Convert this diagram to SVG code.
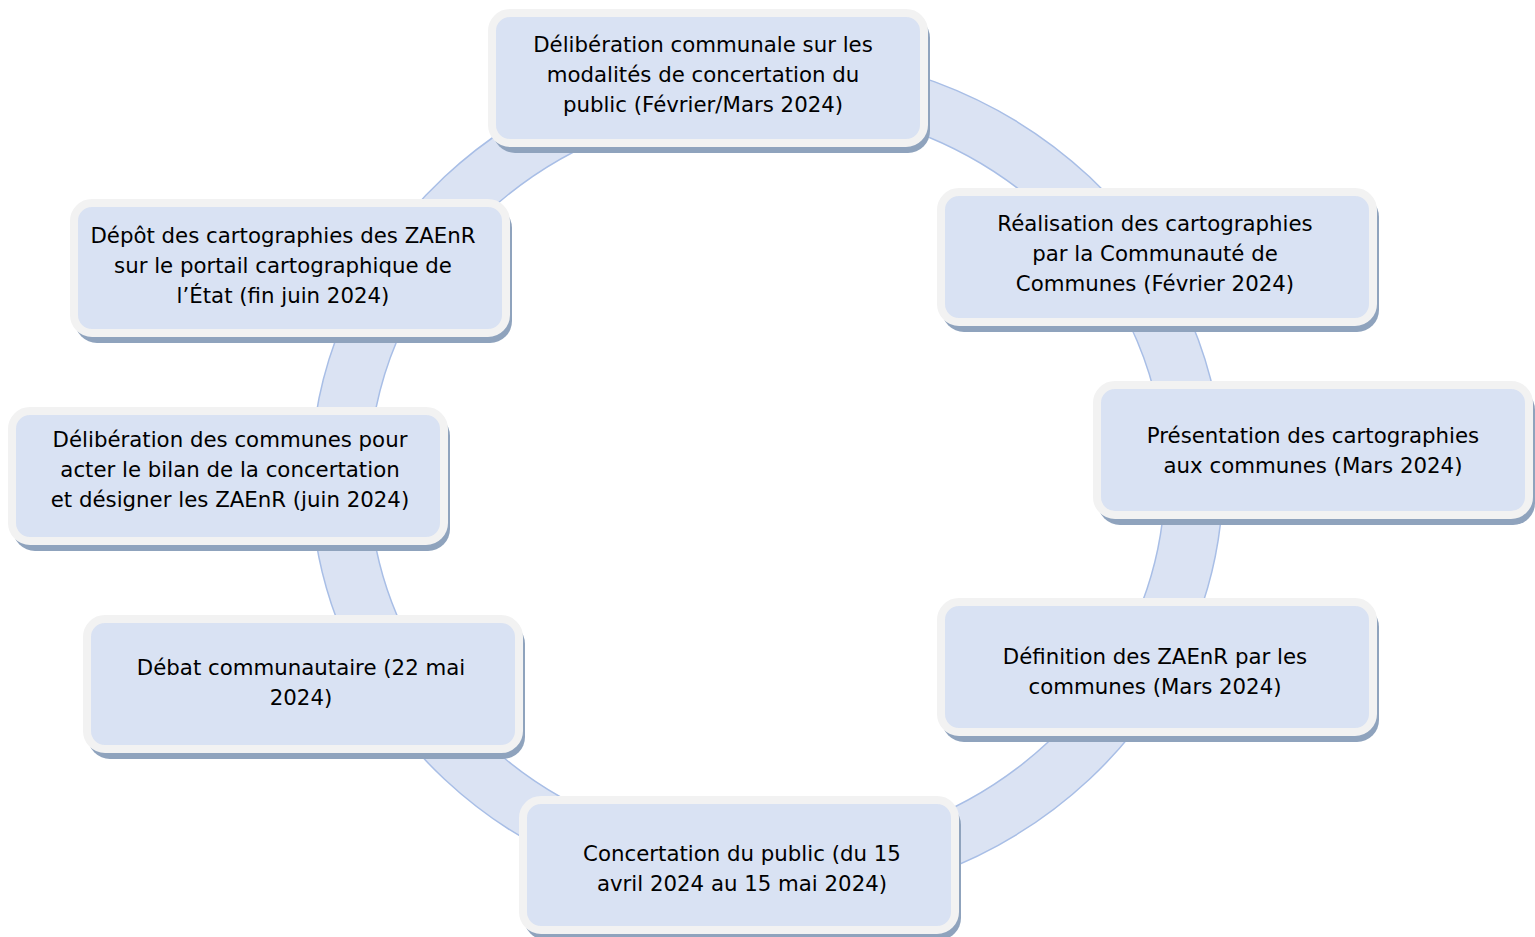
<svg xmlns="http://www.w3.org/2000/svg" width="1535" height="937" viewBox="0 0 1535 937">
<style>
.shadow{fill:#8FA3BD;}
.box{fill:#D9E2F3;stroke:#F2F2F2;stroke-width:8;}
.t{font-family:"DejaVu Sans","Open Sans",sans-serif;font-size:21.3px;fill:#000;text-anchor:middle;}
.ring{fill:#D7E0F2;fill-opacity:0.9;stroke:#A8BEE6;stroke-width:1.5;fill-rule:evenodd;}
</style>
<rect width="1535" height="937" fill="#fff"/>
<g id="connectors">
<path class="ring" d="M311,478 A456,426 0 1,0 1223,478 A456,426 0 1,0 311,478 Z M369,478 A398,373 0 1,0 1165,478 A398,373 0 1,0 369,478 Z"/>
</g>
<g id="n1">
<rect class="shadow" x="493" y="16" width="437" height="137" rx="22"/>
<rect class="box" x="492" y="13" width="432" height="130" rx="18"/>
<text class="t" x="703" y="52">Délibération communale sur les</text>
<text class="t" x="703" y="82">modalités de concertation du</text>
<text class="t" x="703" y="112">public (Février/Mars 2024)</text>
</g>
<g id="n2">
<rect class="shadow" x="942" y="195" width="437" height="137" rx="22"/>
<rect class="box" x="941" y="192" width="432" height="130" rx="18"/>
<text class="t" x="1155" y="231">Réalisation des cartographies</text>
<text class="t" x="1155" y="261">par la Communauté de</text>
<text class="t" x="1155" y="291">Communes (Février 2024)</text>
</g>
<g id="n3">
<rect class="shadow" x="1098" y="388" width="437" height="137" rx="22"/>
<rect class="box" x="1097" y="385" width="432" height="130" rx="18"/>
<text class="t" x="1313" y="443">Présentation des cartographies</text>
<text class="t" x="1313" y="473">aux communes (Mars 2024)</text>
</g>
<g id="n4">
<rect class="shadow" x="942" y="605" width="437" height="137" rx="22"/>
<rect class="box" x="941" y="602" width="432" height="130" rx="18"/>
<text class="t" x="1155" y="664">Définition des ZAEnR par les</text>
<text class="t" x="1155" y="694">communes (Mars 2024)</text>
</g>
<g id="n5">
<rect class="shadow" x="524" y="803" width="437" height="137" rx="22"/>
<rect class="box" x="523" y="800" width="432" height="130" rx="18"/>
<text class="t" x="742" y="861">Concertation du public (du 15</text>
<text class="t" x="742" y="891">avril 2024 au 15 mai 2024)</text>
</g>
<g id="n6">
<rect class="shadow" x="88" y="622" width="437" height="137" rx="22"/>
<rect class="box" x="87" y="619" width="432" height="130" rx="18"/>
<text class="t" x="301" y="675">Débat communautaire (22 mai</text>
<text class="t" x="301" y="705">2024)</text>
</g>
<g id="n7">
<rect class="shadow" x="13" y="414" width="437" height="137" rx="22"/>
<rect class="box" x="12" y="411" width="432" height="130" rx="18"/>
<text class="t" x="230" y="447">Délibération des communes pour</text>
<text class="t" x="230" y="477">acter le bilan de la concertation</text>
<text class="t" x="230" y="507">et désigner les ZAEnR (juin 2024)</text>
</g>
<g id="n8">
<rect class="shadow" x="75" y="206" width="437" height="137" rx="22"/>
<rect class="box" x="74" y="203" width="432" height="130" rx="18"/>
<text class="t" x="283" y="243">Dépôt des cartographies des ZAEnR</text>
<text class="t" x="283" y="273">sur le portail cartographique de</text>
<text class="t" x="283" y="303">l’État (fin juin 2024)</text>
</g>
</svg>
